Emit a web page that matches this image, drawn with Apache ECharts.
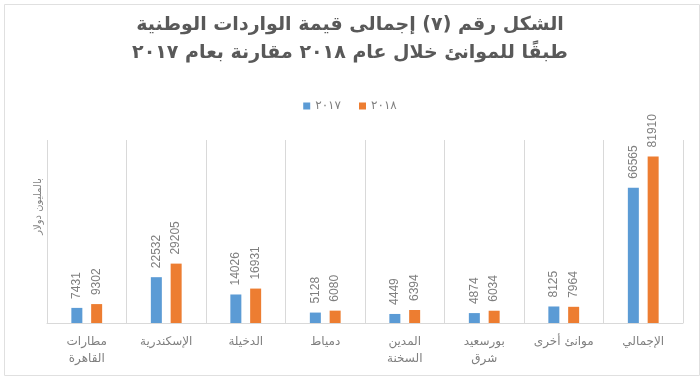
<!DOCTYPE html>
<html>
<head>
<meta charset="utf-8">
<script src="https://cdn.jsdelivr.net/npm/echarts@6/dist/echarts.min.js"></script>
<style>
  html, body { margin: 0; padding: 0; background: #fff; }
  #chart { width: 700px; height: 376px; }
</style>
</head>
<body>
<div id="chart"></div>
<script>
// الموانئ من اليسار إلى اليمين كما في الشكل
const ports = ['مطارات\nالقاهرة', 'الإسكندرية', 'الدخيلة', 'دمياط', 'المدين\nالسخنة', 'بورسعيد\nشرق', 'موانئ أخرى', 'الإجمالي'];
const values2017 = [7431, 22532, 14026, 5128, 4449, 4874, 8125, 66565];
const values2018 = [9302, 29205, 16931, 6080, 6394, 6034, 7964, 81910];
const seriesNames = ['٢٠١٧', '٢٠١٨'];

var myChart = echarts.init(document.getElementById('chart'));

var labelStyle = {
  show: true,
  position: 'top',
  rotate: 90,
  align: 'left',
  verticalAlign: 'middle',
  distance: 9,
  color: '#7f7f7f',
  fontSize: 12,
  fontFamily: 'Liberation Sans'
};

var option = {
  animation: false,
  textStyle: { fontFamily: 'DejaVu Sans' },
  title: {
    text: 'الشكل رقم (٧) إجمالى قيمة الواردات الوطنية\nطبقًا للموانئ خلال عام ٢٠١٨ مقارنة بعام ٢٠١٧',
    left: 'center',
    top: 6,
    textStyle: {
      color: '#595959',
      fontSize: 19,
      fontWeight: 'bold',
      lineHeight: 28,
      fontFamily: 'DejaVu Sans'
    }
  },
  legend: {
    top: 95,
    left: 'center',
    itemWidth: 7,
    itemHeight: 7,
    itemGap: 18,
    icon: 'rect',
    textStyle: { color: '#7f7f7f', fontSize: 12 },
    data: seriesNames
  },
  grid: { left: 47, right: 17, top: 140, bottom: 53 },
  xAxis: {
    type: 'category',
    data: ports,
    axisTick: { show: false },
    axisLine: { lineStyle: { color: '#d9d9d9' } },
    splitLine: { show: true, lineStyle: { color: '#d9d9d9' } },
    axisLabel: {
      interval: 0,
      color: '#7f7f7f',
      fontSize: 12,
      lineHeight: 17,
      margin: 10
    }
  },
  yAxis: {
    type: 'value',
    min: 0,
    max: 90000,
    name: 'بالمليون دولار',
    nameLocation: 'middle',
    nameGap: 4,
    nameRotate: 90,
    nameTextStyle: { color: '#7f7f7f', fontSize: 10, padding: [0, 0, 0, 50] },
    axisLabel: { show: false },
    axisLine: { show: false },
    axisTick: { show: false },
    splitLine: { show: false }
  },
  series: [
    {
      name: seriesNames[0],
      type: 'bar',
      data: values2017,
      barWidth: 11,
      barGap: '80%',
      itemStyle: { color: '#5b9bd5' },
      label: labelStyle
    },
    {
      name: seriesNames[1],
      type: 'bar',
      data: values2018,
      barWidth: 11,
      itemStyle: { color: '#ed7d31' },
      label: labelStyle
    }
  ],
  graphic: [{
    type: 'rect',
    left: 2,
    top: 2,
    shape: { width: 695, height: 371 },
    style: { fill: 'none', stroke: '#e0e0e0', lineWidth: 1 }
  }]
};
myChart.setOption(option);
</script>
</body>
</html>
